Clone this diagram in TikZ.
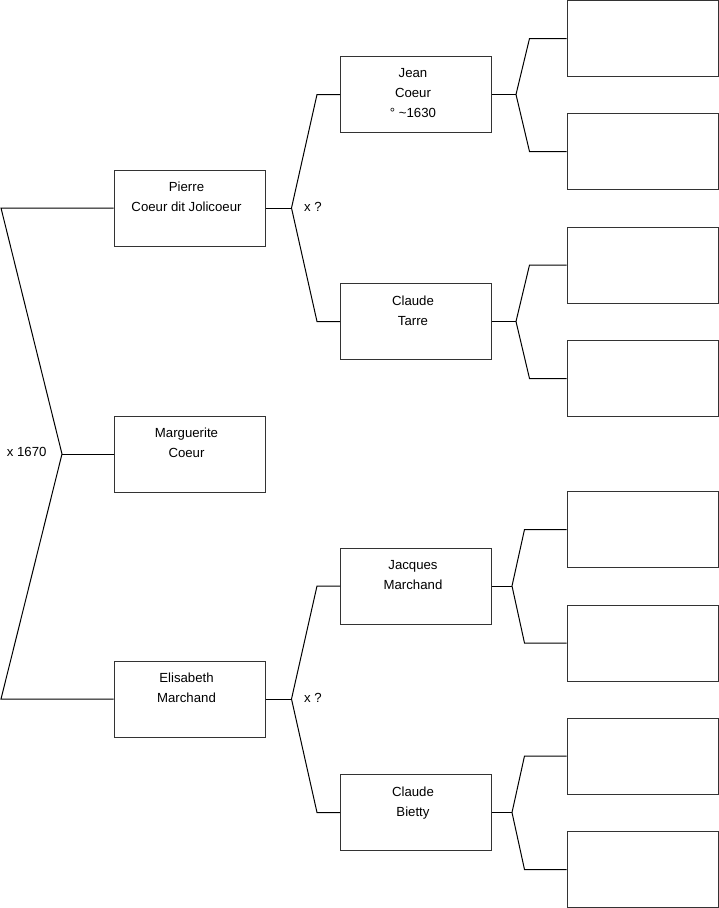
\documentclass[tikz,border=0pt]{standalone}
\usepackage{fontspec}
\setmainfont{Liberation Sans}
\usetikzlibrary{calc, positioning}

\begin{document}
\begin{tikzpicture}[
  x=1pt, y=-1pt,
  line width=1pt,
  font=\fontsize{13.2}{20}\selectfont,
  blank/.style={draw=black!80, minimum width=151, minimum height=76, inner sep=0pt},
  person/.style={blank, label={[names]north:#1}},
  names/.style={anchor=north, align=center, inner sep=0pt, xshift=-3, yshift=-12},
  link/.style={draw=black},
  wedding/.style={inner sep=0pt},
]
\useasboundingbox (0,0) rectangle (719,908);

% generation 1
\node[person={Pierre\\Coeur dit Jolicoeur}] (pierre) at (189.5,208) {};
\node[person={Marguerite\\Coeur}] (marg) at (189.5,454) {};
\node[person={Elisabeth\\Marchand}] (elis) at (189.5,699) {};

% generation 2
\node[person={Jean\\Coeur\\° \textasciitilde1630}] (jean) at (416,94.5) {};
\node[person={Claude\\Tarre}] (tarre) at (416,321.5) {};
\node[person={Jacques\\Marchand}] (jacques) at (416,586) {};
\node[person={Claude\\Bietty}] (bietty) at (416,812.5) {};

% generation 3, still unknown
\foreach \n/\y in {a1/38.5, a2/151.5, a3/265, a4/378.5, a5/529.5, a6/643, a7/756, a8/869.5}
  \node[blank] (\n) at (642.5,\y) {};

% marriage of Pierre and Elisabeth
\coordinate (top) at (1,208);
\coordinate (bot) at (1,699);
\coordinate (mk) at (62,454);
\draw[link] (pierre.west) -- (top) -- (mk) -- (bot) -- (elis.west);
\draw[link] (mk) -- (marg.west);
\node[wedding, anchor=east] (w0) at (47,452) {x 1670};

% parents of Pierre and Elisabeth
\foreach \kid/\pa/\ma in {pierre/jean/tarre, elis/jacques/bietty} {
  \draw[link] (\kid.east) -- ++(26,0) coordinate (k-\kid);
  \draw[link] (\pa.west) -- ++(-23,0) -- (k-\kid) -- ($(\ma.west)+(-23,0)$) -- (\ma.west);
  \node[wedding, anchor=west] (w-\kid) at ($(k-\kid)+(12,-1)$) {x ?};
}

% grandparents
\foreach \kid/\pa/\ma/\dx/\bx in {jean/a1/a2/24/37, tarre/a3/a4/24/37,
                                  jacques/a5/a6/20/42, bietty/a7/a8/20/42} {
  \draw[link] (\kid.east) -- ++(\dx,0) coordinate (k-\kid);
  \draw[link] (\pa.west) -- ++(-\bx,0) -- (k-\kid) -- ($(\ma.west)+(-\bx,0)$) -- (\ma.west);
}
\end{tikzpicture}
\end{document}
